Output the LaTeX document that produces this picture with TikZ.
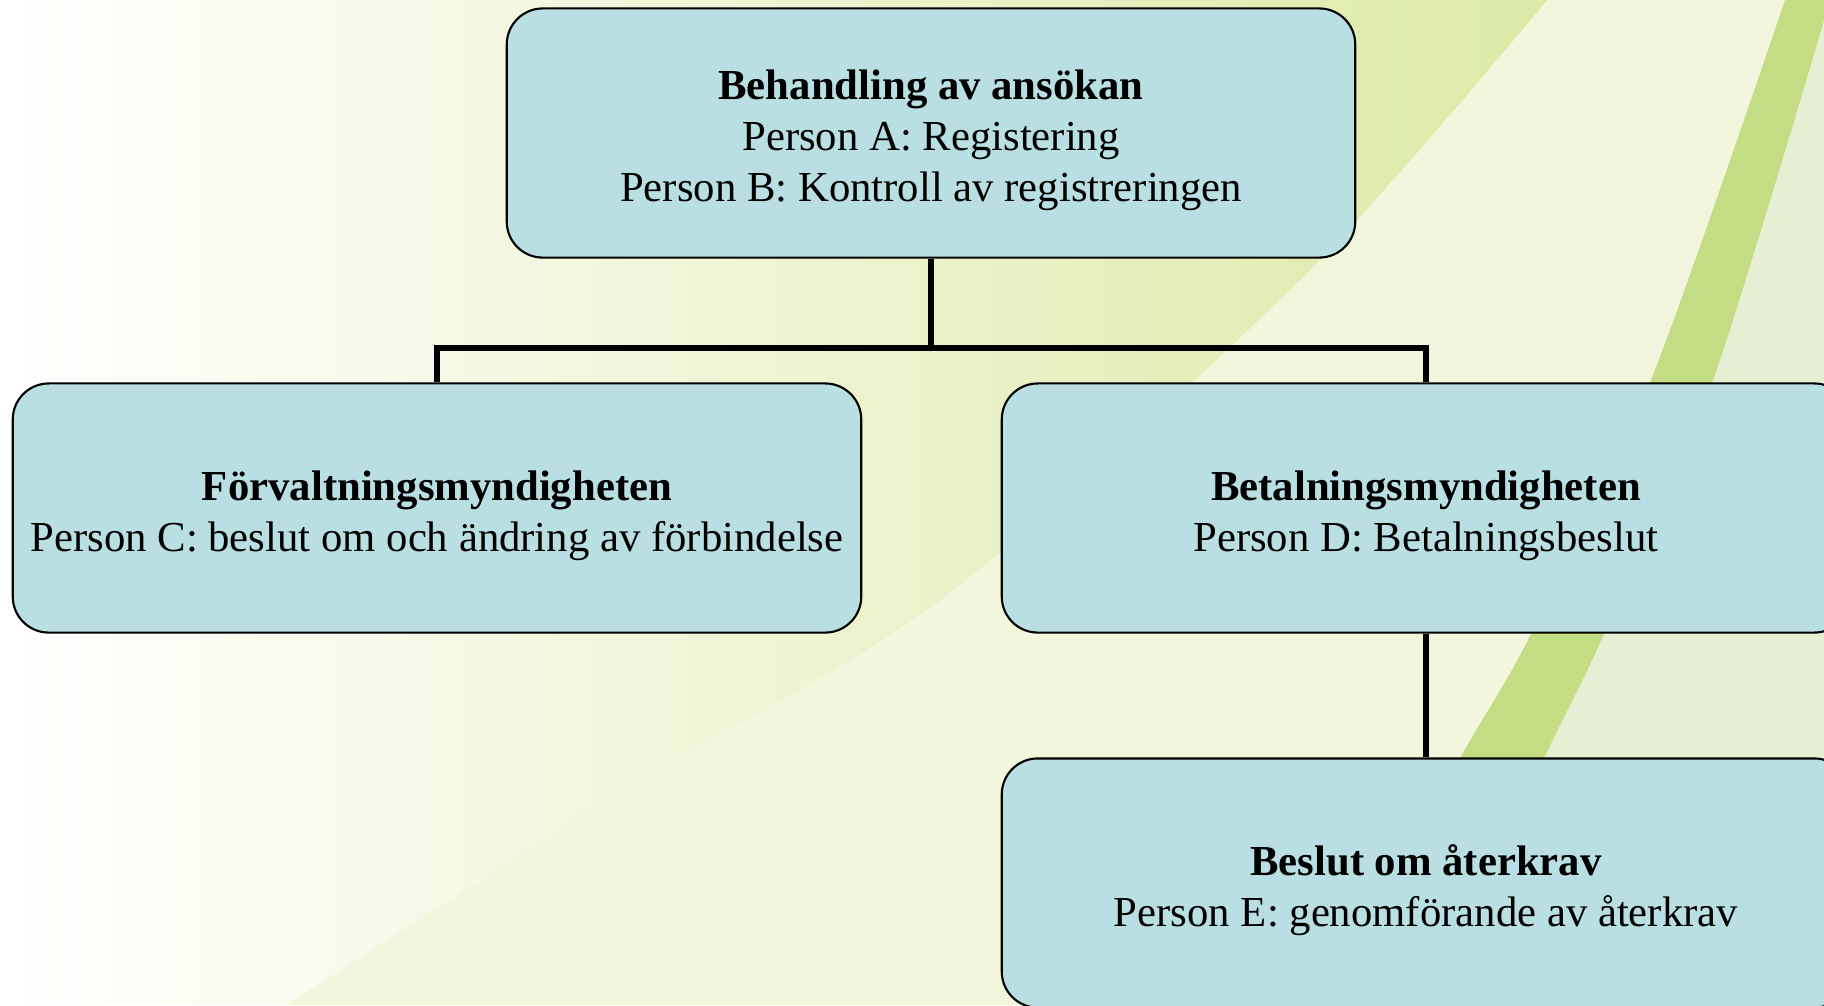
\documentclass[tikz,border=0pt]{standalone}
\usepackage{fontspec}
\setmainfont{Liberation Serif}
\usepackage{xcolor}
\definecolor{boxblue}{HTML}{B9DFE2}
\definecolor{bandgreen}{HTML}{DCEAA6}
\definecolor{palegreen}{HTML}{F1F6DD}
\definecolor{stripegreen}{HTML}{C4DD84}
\definecolor{edgegreen}{HTML}{E6EFD4}
\newcommand{\headline}[1]{\rule{0pt}{12.6pt}\textbf{#1}}

\begin{document}
\begin{tikzpicture}[x=.01cm, y=-.01cm,
    orgbox/.style={draw=black, line width=.6pt, fill=boxblue, rounded corners=.36cm,
        minimum width=8.48cm, minimum height=2.49cm, align=center, inner sep=0pt,
        font=\fontsize{12.15}{14.5}\selectfont},
    orgline/.style={line width=1.7pt}]
\useasboundingbox (0,0) rectangle (1824,1005);
\clip (0,0) rectangle (1824,1005);

% background
\fill[palegreen] (0,0) rectangle (1824,1005);
\shade[left color=white, right color=bandgreen] (0,0)
    -- plot[smooth] coordinates {(1547,0) (1300,280) (940,600) (606,800) (287,1005)}
    -- (0,1005) -- cycle;
\fill[edgegreen] plot[smooth] coordinates {(1830,0) (1713,380) (1604,634) (1544,758) (1425,1005)}
    -- (1900,1005) -- (1900,0) -- cycle;
\fill[stripegreen] plot[smooth] coordinates {(1785,0) (1651,380) (1531,634) (1460,758) (1319,1005)}
    -- plot[smooth] coordinates {(1425,1005) (1544,758) (1604,634) (1713,380) (1830,0)} -- cycle;

% boxes
\node[orgbox] (top) at (931,133) {\headline{Behandling av ansökan}\\Person A: Registering\\Person B: Kontroll av registreringen};
\node[orgbox] (forv) at (437,508) {\headline{Förvaltningsmyndigheten}\\Person C: beslut om och ändring av förbindelse};
\node[orgbox] (betal) at (1426,508) {\headline{Betalningsmyndigheten}\\Person D: Betalningsbeslut};
\node[orgbox] (aterkrav) at (1426,883) {\headline{Beslut om återkrav}\\Person E: genomförande av återkrav};

% lines
\coordinate (split) at (931,348);
\draw[orgline] (top.south) -- (split);
\draw[orgline] (forv.north) |- (split) -| (betal.north);
\draw[orgline] (betal.south) -- (aterkrav.north);
\end{tikzpicture}
\end{document}
